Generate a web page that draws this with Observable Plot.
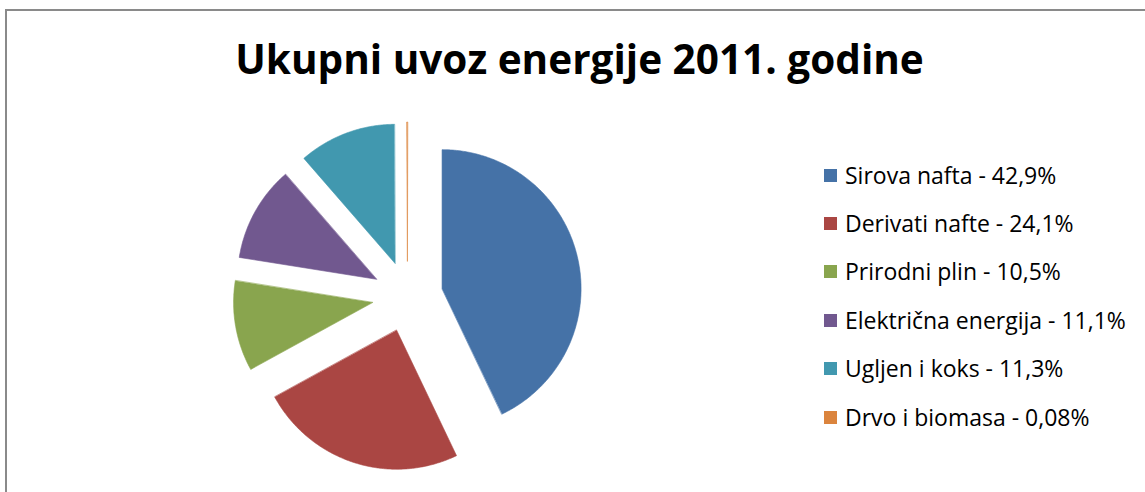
<!DOCTYPE html>
<html>
<head>
<meta charset="utf-8">
<script src="https://cdn.jsdelivr.net/npm/d3@7"></script>
<script src="https://cdn.jsdelivr.net/npm/@observablehq/plot@0.6"></script>
<style>
  html, body { margin: 0; padding: 0; background: #fff; }
  #root { position: relative; width: 1145px; height: 492px; overflow: hidden; background: #fff; font-family: "Open Sans", Lato, sans-serif; font-variant-ligatures: none; }
  #frame { position: absolute; left: 5px; top: 9px; width: 1200px; height: 600px; border: 2px solid #8a8a8a; box-sizing: border-box; }
  #title { position: absolute; left: 0; width: 1159px; top: 39px; line-height: 1; text-align: center; font-weight: 700; font-size: 40.5px; color: #000; white-space: nowrap; }
  #pie { position: absolute; left: 227px; top: 116px; }
  #legend { position: absolute; left: 824px; top: 151px; }
  .row { display: flex; align-items: center; height: 48.4px; font-size: 23px; line-height: 1; color: #000; white-space: nowrap; }
  .sw { width: 13px; height: 13px; margin-right: 8px; flex: none; }
</style>
</head>
<body>
<div id="root">
  <div id="frame"></div>
  <div id="title"></div>
  <div id="pie"></div>
  <div id="legend"></div>
</div>
<script>
const title = "Ukupni uvoz energije 2011. godine";
const categories = ["Sirova nafta", "Derivati nafte", "Prirodni plin", "Električna energija", "Ugljen i koks", "Drvo i biomasa"];
const values = [42.9, 24.1, 10.5, 11.1, 11.3, 0.08];
const valueLabels = ["42,9%", "24,1%", "10,5%", "11,1%", "11,3%", "0,08%"];
const colors = ["#4572A7", "#AA4643", "#89A54E", "#71588F", "#4198AF", "#DB843D"];

document.getElementById("title").textContent = title;

// Legend
const legend = document.getElementById("legend");
categories.forEach((c, i) => {
  const row = document.createElement("div");
  row.className = "row";
  const sw = document.createElement("span");
  sw.className = "sw";
  sw.style.background = colors[i];
  const t = document.createElement("span");
  t.textContent = `${c} - ${valueLabels[i]}`;
  row.appendChild(sw); row.appendChild(t);
  legend.appendChild(row);
});

// Build exploded pie slice outlines (unit radius), angles clockwise from north
const explode = 0.255;
const total = d3.sum(values);
const pts = [];
let acc = 0;
values.forEach((v, i) => {
  const a0 = acc / total * 2 * Math.PI;
  acc += v;
  const a1 = acc / total * 2 * Math.PI;
  const mid = (a0 + a1) / 2;
  const ox = explode * Math.sin(mid), oy = explode * Math.cos(mid);
  pts.push({name: categories[i], x: ox, y: oy});
  const n = Math.max(2, Math.ceil((a1 - a0) / (Math.PI / 360)));
  for (let k = 0; k <= n; k++) {
    const a = a0 + (a1 - a0) * k / n;
    pts.push({name: categories[i], x: ox + Math.sin(a), y: oy + Math.cos(a)});
  }
});

const D = 1.295;
const chart = Plot.plot({
  width: 360,
  height: 360,
  margin: 0,
  x: {domain: [-D, D], axis: null},
  y: {domain: [-D, D], axis: null},
  color: {domain: categories, range: colors},
  marks: [
    Plot.line(pts, {x: "x", y: "y", z: "name", fill: "name", stroke: "name", strokeWidth: 0.6, curve: "linear-closed"})
  ]
});
document.getElementById("pie").appendChild(chart);
</script>
</body>
</html>
